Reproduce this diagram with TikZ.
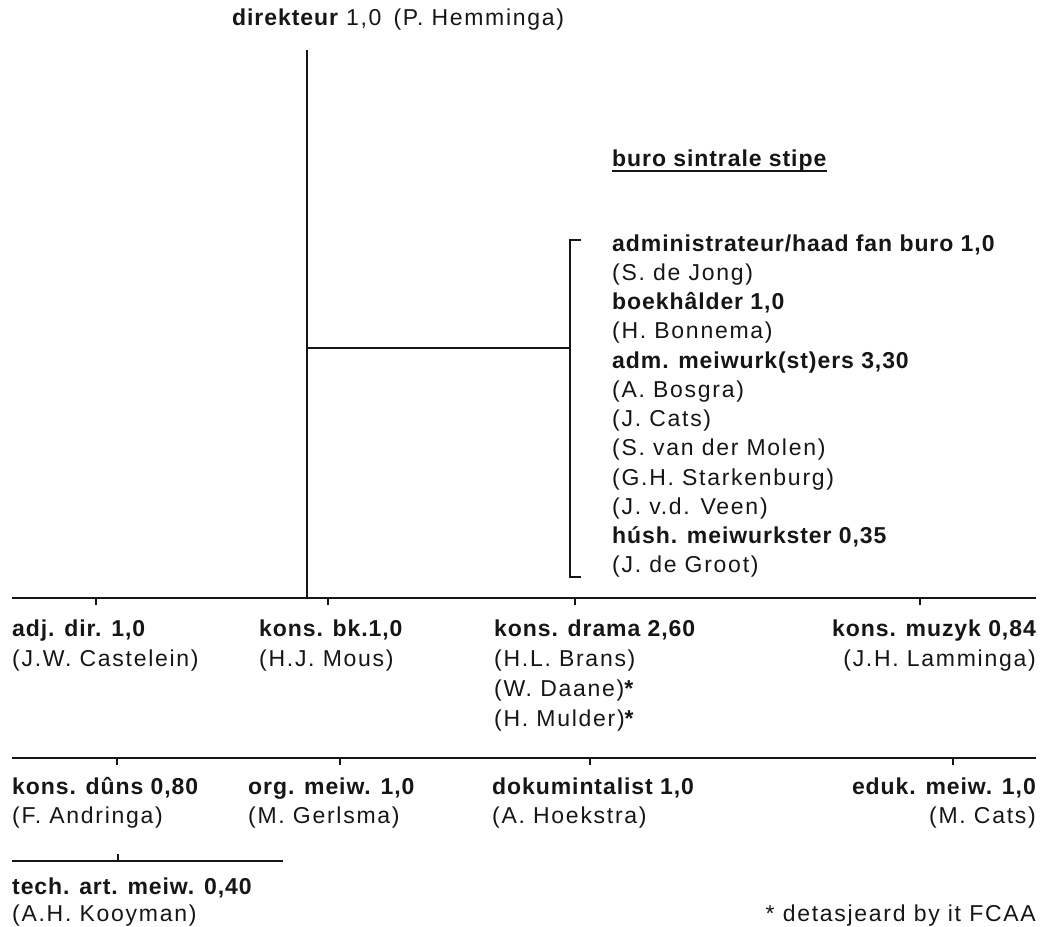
\documentclass[tikz,border=0pt]{standalone}
\usepackage{fontspec}
\usetikzlibrary{calc}
\setmainfont{Liberation Sans}
\newfontfamily\rgf{Liberation Sans}[LetterSpace=7.5]
\newfontfamily\bdf{Liberation Sans}[LetterSpace=4]
\newcommand{\B}[1]{{\bdf\bfseries #1}}
\definecolor{ink}{HTML}{161616}
\begin{document}
\begin{tikzpicture}[x=1pt,y=-1pt,
  txt/.style={inner sep=0pt, font=\rgf\fontsize{23}{27}\selectfont, text=ink, anchor=base west},
  txtr/.style={txt, anchor=base east},
  bar/.style={draw=ink, line width=2.8pt},
  thinline/.style={draw=ink, line width=1.4pt},
  midline/.style={draw=ink, line width=2.2pt},
  tickline/.style={draw=ink, line width=1.5pt}]
\useasboundingbox (0,0) rectangle (1046,926);
% title
\node[txt] (title) at (232,25) {\B{direkteur} 1,0\hspace{12pt}(P. Hemminga)};
% buro sintrale stipe
\node[txt] (buro) at (612,166) {\B{buro sintrale stipe}};
\draw[thinline] ($(buro.base west)+(0,5)$) -- ($(buro.base east)+(0,5)$);
% list
\node[txt] (l1) at (612,251) {\B{administrateur/haad fan buro 1,0}};
\node[txt] (l2) at (612,280) {(S. de Jong)};
\node[txt] (l3) at (612,309) {\B{boekhâlder 1,0}};
\node[txt] (l4) at (612,338) {(H. Bonnema)};
\node[txt] (l5) at (612,368) {\B{adm. meiwurk(st)ers 3,30}};
\node[txt] (l6) at (612,397) {(A. Bosgra)};
\node[txt] (l7) at (612,426) {(J. Cats)};
\node[txt] (l8) at (612,455) {(S. van der Molen)};
\node[txt] (l9) at (612,485) {(G.H. Starkenburg)};
\node[txt] (l10) at (612,514) {(J. v.d. Veen)};
\node[txt] (l11) at (612,543) {\B{húsh. meiwurkster 0,35}};
\node[txt] (l12) at (612,572) {(J. de Groot)};
% row 1
\node[txt] (a1) at (12,636) {\B{adj. dir. 1,0}};
\node[txt] (a2) at (12,666) {(J.W. Castelein)};
\node[txt] (b1) at (259,636) {\B{kons. bk.1,0}};
\node[txt] (b2) at (259,666) {(H.J. Mous)};
\node[txt] (c1) at (494,636) {\B{kons. drama 2,60}};
\node[txt] (c2) at (494,666) {(H.L. Brans)};
\node[txt] (c3) at (494,696) {(W. Daane)\B{*}};
\node[txt] (c4) at (494,726) {(H. Mulder)\B{*}};
\node[txtr] (d1) at (1036,636) {\B{kons. muzyk 0,84}};
\node[txtr] (d2) at (1036,666) {(J.H. Lamminga)};
% row 2
\node[txt] (e1) at (12,794) {\B{kons. dûns 0,80}};
\node[txt] (e2) at (12,823) {(F. Andringa)};
\node[txt] (f1) at (248,794) {\B{org. meiw. 1,0}};
\node[txt] (f2) at (248,823) {(M. Gerlsma)};
\node[txt] (g1) at (492,794) {\B{dokumintalist 1,0}};
\node[txt] (g2) at (492,823) {(A. Hoekstra)};
\node[txtr] (h1) at (1036,794) {\B{eduk. meiw. 1,0}};
\node[txtr] (h2) at (1036,823) {(M. Cats)};
% row 3
\node[txt] (k1) at (12,894) {\B{tech. art. meiw. 0,40}};
\node[txt] (k2) at (12,921) {(A.H. Kooyman)};
\node[txtr] (note) at (1036,921) {* detasjeard by it FCAA};
% connectors
\coordinate (dtop) at (307,50);
\coordinate (dbot) at (307,598);
\draw[thinline] (dtop) -- (dbot);
\coordinate (hL) at (307,348);
\coordinate (hR) at (570,348);
\draw[midline] (hL) -- (hR);
\coordinate (brT) at (570,240);
\coordinate (brB) at (570,577);
\draw[midline] ($(brT)+(11,0)$) -- (brT) -- (brB) -- ($(brB)+(11,0)$);
% bar 1
\coordinate (p1L) at (12,598);
\coordinate (p1R) at (1036,598);
\draw[bar] (p1L) -- (p1R);
\foreach \x/\n in {96/ta,328/tb,575/tc,920/td}{
  \coordinate (\n) at (\x,598);
  \draw[tickline] (\n) -- ++(0,7);
}
% bar 2
\coordinate (p2L) at (12,758);
\coordinate (p2R) at (1036,758);
\draw[bar] (p2L) -- (p2R);
\foreach \x/\n in {117/te,340/tf,590/tg,953/th}{
  \coordinate (\n) at (\x,758);
  \draw[tickline] (\n) -- ++(0,7);
}
% bar 3
\coordinate (p3L) at (12,861);
\coordinate (p3R) at (283,861);
\draw[bar] (p3L) -- (p3R);
\coordinate (tk) at (118,861);
\draw[tickline] (tk) -- ++(0,-7);
\end{tikzpicture}
\end{document}
